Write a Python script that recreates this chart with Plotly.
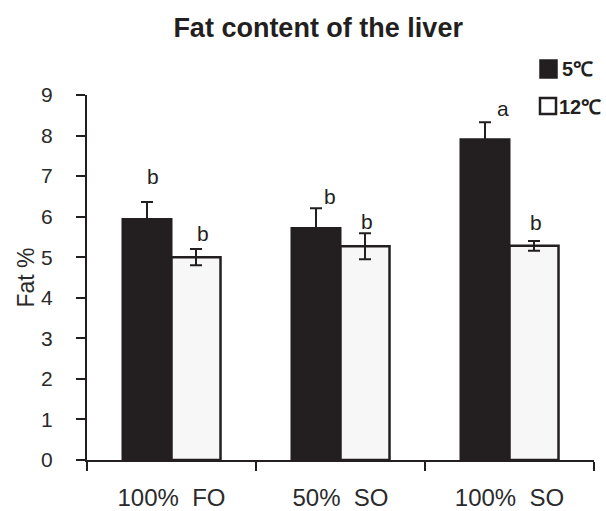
import plotly.graph_objects as go

categories = ["100%\u00a0 FO", "50%\u00a0 SO", "100%\u00a0 SO"]
series_names = ["5℃", "12℃"]
fat_5c = [5.94, 5.72, 7.91]
err_5c = [0.42, 0.49, 0.42]
fat_12c = [5.00, 5.27, 5.28]
err_12c = [0.20, 0.32, 0.12]
letters_5c = ["b", "b", "a"]
letters_12c = ["b", "b", "b"]
y_ticks = list(range(0, 10))

INK = "#231f20"
LIGHT = "#f7f7f7"
FONT = "Arial, Liberation Sans, sans-serif"

W, H = 606, 511
ML, MR, MT, MB = 87, 12, 95, 51
PW, PH = W - ML - MR, H - MT - MB


def px(xp):
    return (xp - ML) / PW


def py(yp):
    return (H - MB - yp) / PH


# style offsets (px) for significance letters
lx_5c = [6, 14, 18]
ly_5c = [26, 12, 14]
lx_12c = [7, 2, 2]
ly_12c = [16, 12, 19]

fig = go.Figure()
fig.add_trace(go.Bar(
    x=categories, y=fat_5c, name=series_names[0], showlegend=False,
    marker=dict(color=INK, line=dict(color=INK, width=2)),
    error_y=dict(type="data", array=err_5c, color=INK, thickness=2, width=6),
))
fig.add_trace(go.Bar(
    x=categories, y=fat_12c, name=series_names[1], showlegend=False,
    marker=dict(color=LIGHT, line=dict(color=INK, width=2.5)),
    error_y=dict(type="data", array=err_12c, color=INK, thickness=2, width=6),
))

half = 24.5
annotations = []
for i, c in enumerate(categories):
    annotations.append(dict(
        x=c, y=fat_5c[i] + err_5c[i], text=letters_5c[i], showarrow=False,
        xshift=-half + lx_5c[i], yshift=ly_5c[i], yanchor="middle",
        font=dict(family=FONT, size=21, color=INK)))
    annotations.append(dict(
        x=c, y=fat_12c[i] + err_12c[i], text=letters_12c[i], showarrow=False,
        xshift=half + lx_12c[i], yshift=ly_12c[i], yanchor="middle",
        font=dict(family=FONT, size=21, color=INK)))

# manual legend (key boxes + labels)
shapes = [
    dict(type="rect", xref="paper", yref="paper", x0=px(540), x1=px(557),
         y0=py(78), y1=py(60), fillcolor=INK, line=dict(color=INK, width=1.5)),
    dict(type="rect", xref="paper", yref="paper", x0=px(540), x1=px(556),
         y0=py(114), y1=py(98), fillcolor="white", line=dict(color=INK, width=2.5)),
]
annotations.append(dict(xref="paper", yref="paper", x=px(560), y=py(69),
                        xanchor="left", yanchor="middle", showarrow=False,
                        text="<b>" + series_names[0] + "</b>",
                        font=dict(family=FONT, size=20, color=INK)))
annotations.append(dict(xref="paper", yref="paper", x=px(557), y=py(107),
                        xanchor="left", yanchor="middle", showarrow=False,
                        text="<b>" + series_names[1] + "</b>",
                        font=dict(family=FONT, size=20, color=INK)))

fig.update_layout(
    width=W, height=H,
    margin=dict(l=ML, r=MR, t=MT, b=MB, autoexpand=False),
    paper_bgcolor="white", plot_bgcolor="white",
    barmode="group", bargap=0.42, bargroupgap=0,
    title=dict(text="<b>Fat content of the liver</b>", x=0.525, xanchor="center",
               y=0.947, yanchor="middle",
               font=dict(family=FONT, size=27, color=INK)),
    font=dict(family=FONT, color=INK),
    showlegend=False,
    annotations=annotations,
    shapes=shapes,
    xaxis=dict(
        type="category", showline=True, linecolor=INK, linewidth=2,
        ticks="outside", tickson="boundaries", ticklen=9, tickwidth=2,
        tickcolor=INK, showgrid=False, zeroline=False, automargin=False,
        tickfont=dict(family=FONT, size=24, color="#2a2a2a"),
        ticklabelstandoff=15, range=[-0.5, 2.5],
    ),
    yaxis=dict(
        range=[0, 9], tickvals=y_ticks, showline=True, linecolor=INK, linewidth=2,
        ticks="outside", ticklen=9, tickwidth=2, tickcolor=INK,
        showgrid=False, zeroline=False, automargin=False,
        tickfont=dict(family=FONT, size=21, color="#2a2a2a"),
        ticklabelstandoff=19,
        title=dict(text="Fat %", font=dict(family=FONT, size=23, color="#2a2a2a"), standoff=0),
    ),
)

fig.write_html(
    "out.html",
    config={"displayModeBar": False},
    post_script="document.body.style.margin='0';document.body.style.padding='0';",
)
